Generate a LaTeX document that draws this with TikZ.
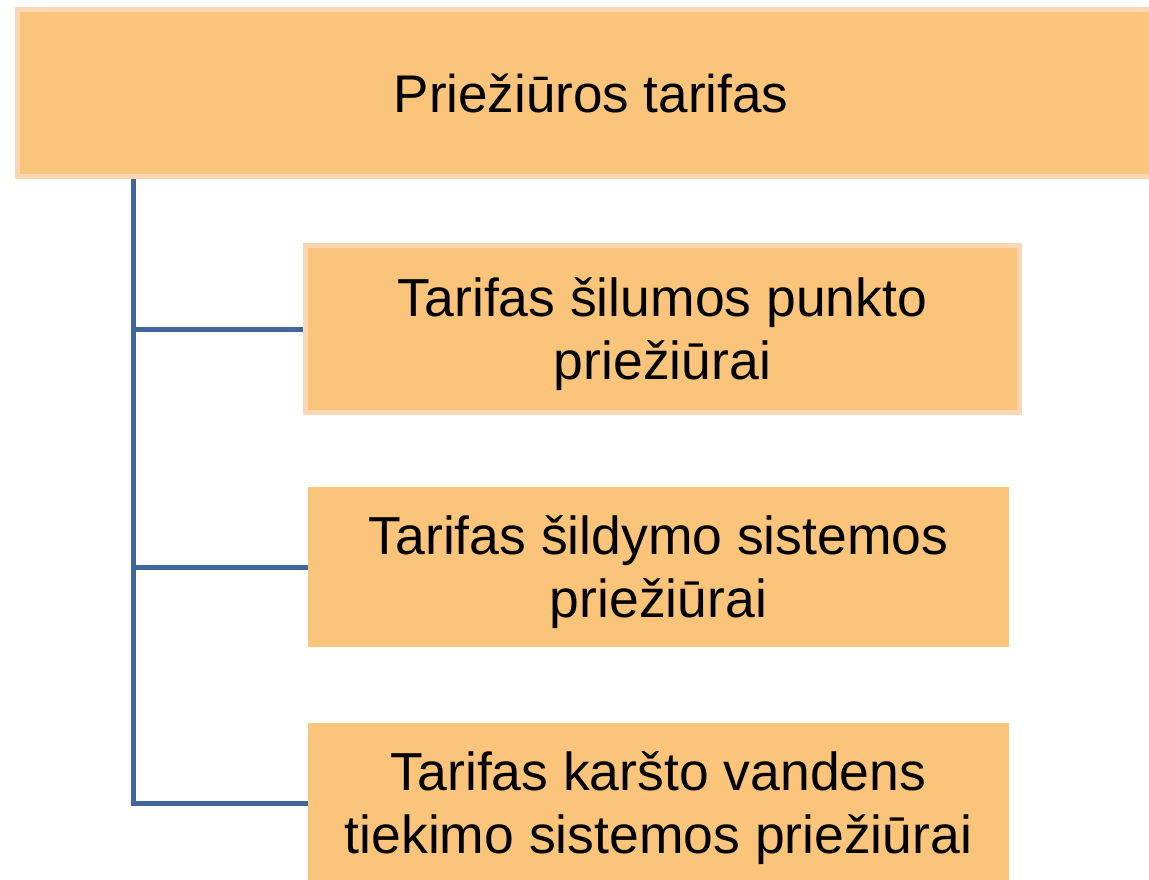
\documentclass[tikz,border=0pt]{standalone}
\usepackage{fontspec}
\setmainfont{Liberation Sans}
\usetikzlibrary{
  positioning,  % anchors and relative placement
}
\definecolor{boxfill}{RGB}{251,196,123}
\definecolor{boxedge}{RGB}{251,214,181}
\definecolor{treeline}{RGB}{64,102,154}
\tikzset{
  x=1pt,
  y=-1pt,
  tariff box/.style={
    rectangle,
    fill=boxfill,
    align=center,
    inner sep=0pt,
    text depth=0pt,
    font=\fontsize{53.5}{63}\selectfont
  },
  framed/.style={
    draw=boxedge,
    line width=5pt
  },
  branch/.style={
    draw=treeline,
    line width=5pt
  }
}
\begin{document}
\begin{tikzpicture}
\useasboundingbox[clip] (0,0) rectangle (1149,879);
\node[tariff box,framed,minimum width=1147pt,minimum height=167pt,
      font=\fontsize{53}{63}\selectfont]
  (top) at (591,93) {Prie\v{z}i\={u}ros tarifas};
\node[tariff box,framed,minimum width=714pt,minimum height=167pt]
  (point) at (662.5,329) {Tarifas \v{s}ilumos punkto\\prie\v{z}i\={u}rai};
\node[tariff box,minimum width=701pt,minimum height=160pt]
  (heating) at (658.5,567) {Tarifas \v{s}ildymo sistemos\\prie\v{z}i\={u}rai};
\node[tariff box,minimum width=701pt,minimum height=160pt]
  (water) at (658.5,803) {Tarifas kar\v{s}to vandens\\tiekimo sistemos prie\v{z}i\={u}rai};
\coordinate (trunk) at (133,0);
% tree connectors
\draw[branch] (trunk |- top.south) -- (trunk |- water.west) -- (water.west);
\draw[branch] (trunk |- point.west) -- (point.west);
\draw[branch] (trunk |- heating.west) -- (heating.west);
\end{tikzpicture}
\end{document}
